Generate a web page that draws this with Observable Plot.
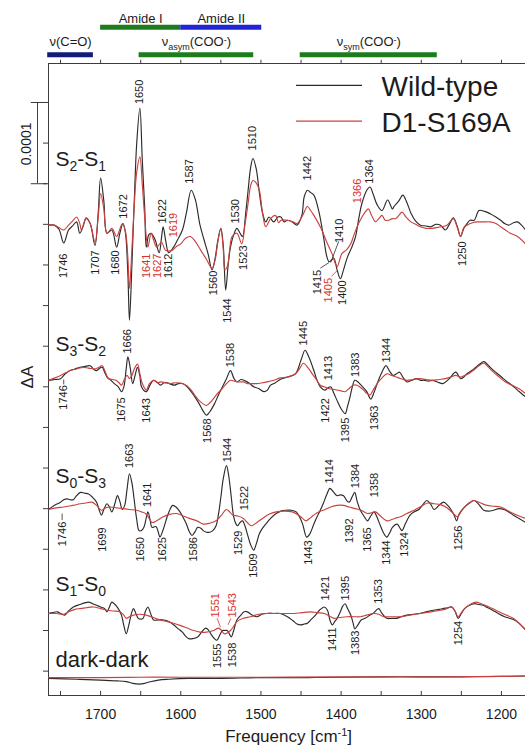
<!DOCTYPE html>
<html><head><meta charset="utf-8">
<script src="https://cdn.jsdelivr.net/npm/d3@7"></script>
<script src="https://cdn.jsdelivr.net/npm/@observablehq/plot@0.6"></script>
<style>html,body{margin:0;padding:0;background:#fff;}</style>
</head><body><div id="chart"></div>
<script>
// ---------- data (values in 1e-5 ΔA, x in cm^-1) ----------
const xTickLabels = [1700, 1600, 1500, 1400, 1300, 1200];
const xMinorTicks = [1750,1700,1650,1600,1550,1500,1450,1400,1350,1300,1250,1200];
const yTicks = [3,8,13,18,23,28,33,38,43,48,53,58,63,68,73];
const panelNames = ["S2-S1", "S3-S2", "S0-S3", "S1-S0", "dark-dark"];
const panelOffsets = [57.9, 38.8, 22.9, 10.1, 2.1];
const legendNames = ["Wild-type", "D1-S169A"];

const s2s1_wt = [[1765,0],[1758,0],[1752,-0.5],[1746,-2.2],[1740,-0.6],[1735,-0.1],[1730,0.4],[1726,-1.0],[1722,-0.2],[1718,0.9],[1713,0.2],[1707,-2.5],[1703,1.5],[1700,5.8],[1696,3.0],[1692,-1.0],[1686,-0.6],[1680,-2.7],[1676,-1.0],[1672,0.2],[1669,-1.0],[1666,-6],[1664,-11.7],[1661,-5],[1658,3],[1655,10],[1651,14.4],[1648,8],[1645,2.2],[1643,-2.7],[1640,-1.2],[1637,-1.0],[1632,-1.8],[1627,-3.4],[1624,-1.5],[1622,-0.2],[1619,-1.8],[1615,-3.4],[1609,-2.7],[1604,-1.8],[1598,-0.6],[1593,1.5],[1587,4.3],[1582,3.2],[1576,0],[1571,-1.8],[1566,-3.5],[1561,-5.5],[1557,-4],[1554,-2],[1550,-0.4],[1547,-2.5],[1544,-8],[1541,-5],[1538,-2.7],[1534,-1.2],[1530,-0.4],[1526,-1.0],[1523,-1.4],[1519,1.5],[1516,4.3],[1513,7],[1510,8.2],[1506,7],[1502,4],[1498,1.5],[1494,0.4],[1490,1.0],[1484,0.4],[1479,1.0],[1475,1.0],[1471,0.4],[1467,0.6],[1461,0.4],[1455,0],[1449,1.2],[1446,3.5],[1442,4.3],[1438,4.0],[1434,3.7],[1428,1.8],[1422,-1.4],[1418,-3.8],[1415,-4.5],[1412,-4.3],[1409,-4.1],[1405,-5.5],[1401,-6.6],[1397,-5.5],[1392,-3.9],[1387,-2.8],[1382,-1.4],[1378,0.8],[1374,2.7],[1368,4.3],[1364,4.7],[1360,3.8],[1355,2.5],[1349,1.8],[1342,3.1],[1336,2.0],[1334,2.3],[1328,3.0],[1323,3.7],[1318,2.8],[1313,1.5],[1307,0.5],[1301,0],[1294,-0.1],[1288,-0.2],[1282,0.1],[1276,0],[1270,-0.6],[1265,0.1],[1260,0.9],[1255,-0.2],[1251,-1.4],[1247,-0.4],[1243,0.2],[1239,0.6],[1234,0.6],[1228,1.8],[1221,1.7],[1214,1.4],[1207,1.0],[1201,0.6],[1196,0.2],[1191,0],[1185,0.3],[1180,0.4],[1175,0],[1170,-0.6]];
const s2s1_mut = [[1765,0],[1758,0],[1752,-0.3],[1746,-0.6],[1740,0],[1735,0.5],[1730,1.0],[1726,0.2],[1724,-0.6],[1721,0.2],[1718,0.8],[1713,0.2],[1707,-2.1],[1703,1.0],[1700,3.9],[1696,2.0],[1692,-1.0],[1686,-0.4],[1680,-1.4],[1676,-0.5],[1673,0.2],[1669,-0.8],[1666,-4],[1664,-7.8],[1661,-3],[1658,2.5],[1655,6.5],[1651,8.4],[1648,5],[1645,1.0],[1641,-2.7],[1637,-1.0],[1634,-1.8],[1630,-2.7],[1624,-2.1],[1619,-3.1],[1611,-3.1],[1605,-2.6],[1600,-2.3],[1594,-1.6],[1588,-1.4],[1582,-2.0],[1575,-3.1],[1568,-4.2],[1561,-5.3],[1557,-4.2],[1554,-2.2],[1550,-0.4],[1547,-3],[1545,-5.5],[1542,-5.1],[1539,-3],[1536,-1.4],[1530,-1.0],[1524,-2.3],[1520,0],[1516,2.7],[1513,4.8],[1510,5.5],[1506,5.2],[1502,4.3],[1498,1.5],[1494,-0.2],[1488,0.8],[1482,1.2],[1478,0.3],[1475,0.6],[1467,0.6],[1460,0.4],[1455,0.2],[1448,1.2],[1442,2.3],[1438,1.8],[1434,1.2],[1426,-0.2],[1417,-2.3],[1411,-3.6],[1405,-5.1],[1399,-3.5],[1393,-3.0],[1388,-2.3],[1384,-1.2],[1380,-0.2],[1374,1.0],[1370,1.6],[1366,2.0],[1362,1.2],[1357,0.4],[1353,0.8],[1349,1.2],[1345,0.6],[1341,0.6],[1336,0.8],[1332,0.8],[1328,1.2],[1324,1.6],[1319,1.0],[1313,0.4],[1307,0.1],[1301,-0.2],[1294,-0.4],[1288,-0.4],[1281,-0.3],[1275,-0.2],[1268,0],[1260,0.8],[1255,-0.3],[1251,-1.4],[1247,-0.3],[1243,0],[1236,0.3],[1230,0.4],[1222,0.4],[1214,0.4],[1207,0.2],[1201,-0.2],[1195,-0.6],[1189,-1.0],[1180,-1.4],[1170,-2.3]];
const s3s2_wt = [[1765,0],[1757,0.1],[1750,0.2],[1744,0.8],[1738,1.2],[1732,1.4],[1726,1.6],[1720,1.7],[1713,1.8],[1708,1.3],[1705,1.2],[1701,1.5],[1698,1.6],[1695,1.0],[1692,0.4],[1687,0],[1683,-0.4],[1678,-0.8],[1674,-1.4],[1671,-0.8],[1668,1.5],[1666,2.9],[1663,1.5],[1660,-0.4],[1657,0.6],[1654,1.6],[1651,0.5],[1649,-0.8],[1643,-1.4],[1638,-0.5],[1634,0],[1630,-0.2],[1625,-0.6],[1621,-0.3],[1617,-0.3],[1612,-0.5],[1608,-0.6],[1603,-0.4],[1598,-0.4],[1592,-0.8],[1587,-1.4],[1582,-2.1],[1577,-2.9],[1572,-3.8],[1568,-4.3],[1564,-3.9],[1558,-2.9],[1553,-1.8],[1548,-0.8],[1543,0.2],[1538,1.2],[1534,0.3],[1530,-0.2],[1525,0.1],[1519,-0.1],[1514,-0.4],[1509,-0.8],[1503,-1.0],[1496,-1.4],[1492,-1.2],[1488,-0.6],[1482,-0.3],[1476,0.1],[1467,0.4],[1457,0.8],[1450,2.5],[1445,3.7],[1440,2.8],[1434,1.2],[1430,0],[1426,-0.8],[1420,-1.2],[1416,-0.9],[1413,-0.8],[1409,-1.6],[1405,-2.5],[1400,-3.5],[1395,-4.1],[1392,-3.2],[1389,-2.1],[1386,-0.8],[1383,0],[1379,-0.2],[1375,-0.6],[1368,-1.4],[1363,-2.3],[1359,-1.5],[1355,-0.4],[1350,0.8],[1344,1.8],[1340,1.2],[1335,0.6],[1331,0.8],[1327,1.0],[1323,0.4],[1318,-0.2],[1312,0],[1306,0.2],[1301,0],[1296,0],[1291,-0.1],[1286,0],[1280,-0.2],[1273,-0.4],[1265,0.2],[1257,1.0],[1251,0.2],[1247,0.4],[1243,0.8],[1237,1.2],[1232,1.6],[1227,2.0],[1222,2.3],[1217,1.9],[1212,1.4],[1206,0.9],[1200,0.4],[1194,-0.1],[1187,-0.6],[1180,-1.2],[1173,-1.8],[1170,-2.0]];
const s3s2_mut = [[1765,0],[1757,0.3],[1750,0.6],[1744,0.9],[1738,1.2],[1730,1.4],[1722,1.6],[1715,1.5],[1707,1.4],[1702,1.6],[1698,1.8],[1694,1.0],[1690,0.2],[1685,0.1],[1681,0],[1677,-0.3],[1674,-0.6],[1670,0.2],[1667,0.6],[1664,0.2],[1661,0.6],[1658,1.4],[1654,2.0],[1651,0.8],[1648,-0.4],[1643,-1.2],[1639,-0.4],[1634,0],[1629,-0.3],[1625,-0.2],[1619,-0.3],[1613,-0.4],[1606,-0.3],[1598,-0.4],[1592,-0.7],[1587,-1.2],[1582,-1.9],[1577,-2.5],[1572,-2.9],[1568,-3.1],[1563,-2.7],[1558,-2.1],[1553,-1.5],[1548,-1.0],[1543,-0.4],[1538,0],[1533,-0.1],[1528,-0.2],[1522,-0.2],[1517,-0.4],[1511,-0.4],[1505,-0.4],[1498,-0.3],[1492,-0.2],[1484,0],[1476,0.3],[1467,0.4],[1457,0.8],[1452,1.4],[1447,2.1],[1441,1.5],[1436,0.8],[1431,0.1],[1426,-0.6],[1421,-0.8],[1416,-1.0],[1410,-1.1],[1405,-1.2],[1400,-1.3],[1395,-1.4],[1390,-1.0],[1385,-0.6],[1380,-0.6],[1377,-0.8],[1372,-1.2],[1368,-1.6],[1364,-1.8],[1360,-1.2],[1355,-0.4],[1349,0.3],[1343,0.8],[1337,0.6],[1331,0.4],[1325,0.2],[1318,0],[1310,0.1],[1302,0.2],[1294,0.1],[1286,0],[1278,0.1],[1270,0.2],[1263,0.4],[1257,0.6],[1251,0.4],[1246,0.6],[1241,0.8],[1234,1.3],[1228,1.8],[1222,2.1],[1217,1.7],[1212,1.2],[1204,0.5],[1195,-0.2],[1189,-0.5],[1183,-0.8],[1177,-1.1],[1173,-1.4],[1170,-1.6]];
const s0s3_wt = [[1765,0],[1758,0.5],[1750,0.9],[1746,1.2],[1742,1.3],[1738,1.2],[1734,1.2],[1730,1.7],[1725,2.1],[1720,2.0],[1715,1.9],[1710,1.5],[1705,0.9],[1702,0],[1699,-0.7],[1696,0],[1692,0.7],[1689,0.3],[1686,-0.3],[1682,0.8],[1679,1.7],[1676,1.0],[1673,0],[1670,0.5],[1667,2.5],[1664,4.4],[1661,3.3],[1658,1.1],[1655,-1.2],[1652,-2.6],[1649,-2.6],[1646,-2.2],[1643,-1.0],[1641,-0.3],[1638,-1.4],[1636,-2.2],[1631,-2.1],[1628,-2.8],[1626,-3.4],[1622,-2.5],[1617,-0.9],[1613,0.1],[1610,0.5],[1606,0.3],[1601,-0.3],[1597,-1.0],[1593,-1.8],[1589,-2.8],[1586,-3.2],[1582,-2.7],[1579,-2.2],[1575,-2.3],[1572,-2.6],[1568,-2.8],[1564,-2.8],[1560,-2.6],[1556,-2.0],[1553,-0.6],[1550,1.5],[1547,3.8],[1543,5.4],[1540,4.0],[1537,1.5],[1534,-0.9],[1531,-1.8],[1529,-2.0],[1526,-1.6],[1523,-1.4],[1520,-2.0],[1517,-3.0],[1513,-4.3],[1509,-5.0],[1506,-4.3],[1502,-3.0],[1498,-2.3],[1494,-1.8],[1488,-1.1],[1481,-0.5],[1475,-0.2],[1469,-0.1],[1462,-0.1],[1456,-0.3],[1452,-0.9],[1448,-1.8],[1443,-3.4],[1439,-3.0],[1434,-1.8],[1430,-0.9],[1426,-0.1],[1422,0.8],[1418,1.8],[1414,2.6],[1410,2.2],[1405,1.7],[1401,1.8],[1397,1.7],[1393,1.1],[1390,0.9],[1386,1.6],[1383,2.1],[1380,1.0],[1376,-0.1],[1371,-0.9],[1367,-1.4],[1363,-0.8],[1359,-0.3],[1355,-1.0],[1351,-2.0],[1347,-2.9],[1343,-3.4],[1339,-2.8],[1336,-2.2],[1330,-1.8],[1326,-2.4],[1324,-2.6],[1320,-1.8],[1314,-0.7],[1309,-0.3],[1303,0],[1298,0.6],[1293,1.1],[1288,0.6],[1284,0],[1278,0.5],[1272,0.9],[1267,0.5],[1263,0],[1259,-0.7],[1256,-1.4],[1253,-0.6],[1247,0.2],[1241,0.7],[1234,1.1],[1228,0.6],[1222,-0.1],[1216,-0.2],[1210,-0.1],[1203,0.1],[1197,0],[1191,-0.3],[1185,-0.7],[1178,-1.1],[1170,-1.6]];
const s0s3_mut = [[1765,0],[1755,0.2],[1746,0.3],[1735,0.5],[1725,0.7],[1718,0.8],[1711,0.9],[1705,0.5],[1699,-0.1],[1694,0.2],[1688,0.3],[1680,0.2],[1672,0.1],[1664,0],[1655,-0.1],[1649,-0.3],[1644,-0.5],[1640,-1.0],[1636,-1.6],[1630,-1.4],[1622,-0.9],[1614,-0.6],[1605,-0.5],[1597,-0.8],[1589,-1.1],[1580,-1.4],[1572,-1.8],[1564,-1.7],[1556,-1.4],[1550,-0.8],[1543,0],[1539,-0.3],[1535,-0.7],[1529,-0.8],[1522,-1.1],[1517,-1.6],[1512,-2.0],[1505,-1.6],[1498,-1.1],[1490,-0.6],[1481,-0.3],[1471,-0.2],[1461,-0.3],[1453,-0.7],[1448,-1.1],[1444,-1.4],[1438,-1.0],[1433,-0.6],[1428,-0.3],[1420,0],[1413,0.3],[1405,0.5],[1397,0.5],[1390,0.3],[1382,0.1],[1375,-0.1],[1367,-0.5],[1362,-0.4],[1357,-0.3],[1351,-0.8],[1343,-1.4],[1336,-1.2],[1330,-1.0],[1326,-0.9],[1318,-0.5],[1309,-0.1],[1300,0.4],[1292,0.8],[1284,0.7],[1276,0.6],[1268,0.2],[1261,-0.4],[1255,-0.9],[1250,-0.2],[1244,0.5],[1239,0.9],[1234,1.1],[1226,0.8],[1218,0.5],[1210,0.4],[1201,0.3],[1193,-0.1],[1185,-0.5],[1178,-0.8],[1170,-1.1]];
const s1s0_wt = [[1765,0],[1760,0.1],[1754,0.2],[1750,0],[1745,-0.2],[1740,0.3],[1734,0.8],[1726,1.1],[1720,1.3],[1715,1.4],[1710,1.2],[1705,1.0],[1700,0.8],[1695,0.6],[1692,0.2],[1689,0.8],[1686,1.4],[1682,1.1],[1678,0.6],[1674,-0.2],[1671,-1.5],[1668,-2.5],[1665,-1.5],[1663,-0.6],[1661,0.2],[1659,0.6],[1656,0],[1653,-0.6],[1650,-0.7],[1647,-0.6],[1644,0.3],[1641,0.8],[1638,0.1],[1634,-0.8],[1628,-0.8],[1621,-0.8],[1615,-1.0],[1609,-1.4],[1603,-1.9],[1598,-2.3],[1594,-2.8],[1590,-3.1],[1585,-3.1],[1579,-2.9],[1574,-2.3],[1569,-1.8],[1565,-2.1],[1562,-2.6],[1558,-3.1],[1555,-3.3],[1551,-2.6],[1548,-2.1],[1545,-2.1],[1542,-2.1],[1539,-2.6],[1537,-2.9],[1534,-2.1],[1530,-0.8],[1525,-0.2],[1521,0.2],[1517,0.2],[1511,-0.2],[1505,-0.4],[1499,-0.1],[1493,0],[1484,0],[1476,0],[1467,-0.4],[1460,-0.9],[1455,-1.3],[1450,-1.4],[1446,-1.3],[1442,-1.2],[1437,-0.7],[1432,-0.2],[1427,0.4],[1421,0.8],[1417,0.4],[1414,-0.8],[1411,-1.4],[1408,-1.0],[1405,-0.6],[1401,0.2],[1398,0.9],[1395,1.2],[1392,0.6],[1388,-0.2],[1385,-1.2],[1383,-1.9],[1379,-1.4],[1375,-0.8],[1370,-0.6],[1364,-0.2],[1359,0.1],[1355,0.5],[1353,0.6],[1349,0],[1343,-0.6],[1337,-0.6],[1331,-0.6],[1325,-0.4],[1318,-0.2],[1310,-0.1],[1302,0],[1294,0.2],[1285,0.4],[1278,0.5],[1273,0.6],[1267,0.7],[1262,0.8],[1258,0.3],[1254,-0.6],[1250,0],[1246,0.6],[1240,1.0],[1234,1.2],[1228,1.1],[1223,1.0],[1217,0.7],[1211,0.4],[1204,0],[1196,-0.4],[1190,-0.6],[1184,-0.8],[1178,-1.2],[1174,-1.6],[1170,-2.0]];
const s1s0_mut = [[1765,0],[1755,0],[1746,-0.1],[1740,0.2],[1732,0.5],[1726,0.6],[1718,0.7],[1709,0.8],[1700,0.6],[1692,0.4],[1684,0.3],[1676,0.2],[1671,-0.2],[1668,-0.6],[1664,-0.4],[1659,-0.2],[1651,-0.1],[1643,-0.2],[1634,-0.5],[1626,-0.8],[1617,-1.0],[1609,-1.2],[1600,-1.5],[1592,-1.8],[1584,-2.1],[1576,-2.3],[1568,-2.3],[1559,-2.1],[1553,-1.8],[1549,-2.1],[1546,-2.5],[1542,-2.4],[1538,-2.1],[1534,-1.6],[1530,-1.0],[1522,-0.6],[1513,-0.4],[1503,-0.1],[1493,0],[1484,0],[1471,0],[1459,0],[1449,0.1],[1438,0.2],[1430,0.1],[1421,0],[1415,-0.3],[1409,-0.6],[1402,-0.5],[1392,-0.4],[1384,-0.4],[1376,-0.4],[1368,-0.2],[1359,0],[1353,-0.1],[1347,-0.4],[1337,-0.4],[1326,-0.4],[1314,-0.2],[1301,0],[1288,0.2],[1276,0.4],[1268,0.6],[1262,0.8],[1258,0.3],[1254,-0.4],[1250,0.1],[1246,0.6],[1239,1.1],[1232,1.4],[1225,1.2],[1218,0.9],[1211,0.6],[1203,0.2],[1194,-0.2],[1187,-0.5],[1180,-1.0],[1175,-1.5],[1170,-2.0]];
const dark_wt = [[1765,0],[1730,-0.1],[1700,-0.2],[1680,-0.3],[1668,-0.4],[1660,-0.6],[1652,-0.7],[1645,-0.6],[1638,-0.4],[1628,-0.2],[1615,-0.1],[1590,0],[1550,0],[1500,0.1],[1450,0.1],[1400,0.15],[1350,0.2],[1300,0.2],[1250,0.2],[1200,0.25],[1170,0.3]];
const dark_mut = [[1765,0.1],[1700,0.1],[1650,0.15],[1600,0.15],[1500,0.15],[1400,0.2],[1300,0.2],[1200,0.25],[1170,0.3]];

// peak labels: [text, wavenumber, level, strain]
const peakLabelsUp = [
 ["1672",1671,58.7,"wt"],["1650",1651,72.8,"wt"],["1622",1623,58.1,"wt"],["1619",1609,56.4,"mut"],["1587",1589,63.0,"wt"],["1530",1532,58.1,"wt"],["1510",1510.5,67.1,"wt"],["1442",1442,63.4,"wt"],["1364",1364.6,63.0,"wt"],["1366",1380,60.6,"mut"],["1410",1401.6,55.7,"wt"],
 ["1666",1667,42.1,"wt"],["1538",1538,40.4,"wt"],["1445",1446.5,43.1,"wt"],["1413",1415.7,38.8,"wt"],["1383",1382,39.2,"wt"],["1344",1343.4,41.0,"wt"],
 ["1663",1663.6,28.0,"wt"],["1641",1642,23.2,"wt"],["1544",1542,28.7,"wt"],["1522",1521,22.8,"wt"],["1414",1415,26.1,"wt"],["1384",1382,25.5,"wt"],["1358",1359,24.4,"wt"],
 ["1551",1556.7,9.6,"mut"],["1543",1536,9.6,"mut"],["1421",1419.5,11.7,"wt"],["1395",1394.5,11.7,"wt"],["1353",1353,11.3,"wt"]
];
const peakLabelsDown = [
 ["1746",1746,54.4,"wt"],["1707",1706,54.8,"wt"],["1680",1681,54.8,"wt"],["1641",1643,54.4,"mut"],["1627",1629,54.4,"mut"],["1612",1615,54.4,"wt"],["1560",1559,52.3,"wt"],["1544",1542,48.9,"wt"],["1523",1522,55.4,"wt"],["1250",1249,55.9,"wt"],["1415",1430,52.4,"wt"],["1405",1415.7,51.4,"mut"],["1400",1398.7,51.1,"wt"],
 ["1746",1746,38.2,"wt"],["1675",1674,36.7,"wt"],["1643",1643,36.6,"wt"],["1568",1567,34.1,"wt"],["1422",1419.5,36.6,"wt"],["1395",1394.5,34.2,"wt"],["1363",1359,35.7,"wt"],
 ["1746",1748,21.4,"wt"],["1699",1698,20.7,"wt"],["1650",1650,19.5,"wt"],["1625",1623,19.5,"wt"],["1586",1584,19.5,"wt"],["1529",1527.6,20.3,"wt"],["1509",1509,17.5,"wt"],["1443",1441,19.1,"wt"],["1392",1390,21.8,"wt"],["1365",1367.5,20.7,"wt"],["1344",1343.4,19.1,"wt"],["1324",1321,20.1,"wt"],["1256",1253,20.9,"wt"],
 ["1555",1554.6,6.4,"wt"],["1538",1536,6.5,"wt"],["1411",1411,8.4,"wt"],["1383",1382,8.0,"wt"],["1254",1253,9.2,"wt"]
];
// leader lines: [x1, level1, x2, level2, strain]
const leaders = [
 [1426,52.6,1415,53.3,"wt"],[1412,51.6,1405,52.3,"mut"],[1403,55.9,1413,53.3,"wt"],
 [1746,38.3,1746,38.9,"wt"],[1748,21.6,1748,22.4,"wt"],
 [1554.6,9.5,1550.5,8.4,"mut"],[1537.5,9.5,1541,8.7,"mut"]
];
// assignment bands: [label, from, to, row, colour]
const bands = [
 ["ν(C=O)",1766,1709,0,"#111d78"],
 ["νasym(COO-)",1652,1509,0,"#1d7d1d"],
 ["νsym(COO-)",1451,1280,0,"#1d7d1d"],
 ["Amide I",1700,1600,1,"#1d7d1d"],
 ["Amide II",1600,1499,1,"#2222d6"]
];

// ---------- styling ----------
const WT = "#2b2b2b", MUT = "#c9423f", MUTTXT = "#d8322e", AX = "#3c3c3c", TXT = "#1c1c1c";
const FONT = "'Liberation Sans', Arial, sans-serif";
const series = [
 [s2s1_wt,0,"wt"],[s2s1_mut,0,"mut"],[s3s2_wt,1,"wt"],[s3s2_mut,1,"mut"],
 [s0s3_wt,2,"wt"],[s0s3_mut,2,"mut"],[s1s0_wt,3,"wt"],[s1s0_mut,3,"mut"],
 [dark_wt,4,"wt"],[dark_mut,4,"mut"]
];
const panelLabelLevel = [65.2, 42.4, 26.2, 12.9, 3.5];
const rowBar = [78.87, 82.27], rowText = [79.9, 82.8];

const marks = [];
// frame + ticks
marks.push(Plot.ruleX([1765], {y1: 0, y2: 77.8, stroke: AX, strokeWidth: 1}));
marks.push(Plot.ruleY([0, 77.8], {x1: 1765, x2: 1170, stroke: AX, strokeWidth: 1}));
marks.push(Plot.ruleX(xMinorTicks, {y1: 0, y2: 0.5, stroke: AX, strokeWidth: 1}));
marks.push(Plot.ruleX(xMinorTicks, {y1: 77.8, y2: 78.2, stroke: AX, strokeWidth: 1}));
marks.push(Plot.axisY({ticks: yTicks, tickSize: 5, tickFormat: () => "", label: null, stroke: AX}));
marks.push(Plot.axisX({ticks: xTickLabels, tickFormat: d => String(d), tickSize: 0, tickPadding: 14, fontSize: 14, label: null, fill: TXT}));
// scale bar 0.0001
marks.push(Plot.ruleX([1778.7], {y1: 63, y2: 73, stroke: AX, strokeWidth: 1}));
marks.push(Plot.ruleY([63, 73], {x1: 1786.5, x2: 1766, stroke: AX, strokeWidth: 1}));
marks.push(Plot.text(["0.0001"], {x: 1792.5, y: 67.9, rotate: -90, fontSize: 14, fill: TXT, textAnchor: "middle", lineAnchor: "middle"}));
marks.push(Plot.text(["ΔA"], {x: 1791.5, y: 39.2, rotate: -90, fontSize: 17, fill: TXT, textAnchor: "middle", lineAnchor: "middle"}));
marks.push(Plot.text(["Frequency [cm-1]"], {x: 1465.5, y: -5.75, fontSize: 17, fill: TXT, textAnchor: "middle", lineAnchor: "bottom"}));
// bands
for (const b of bands) {
  marks.push(Plot.ruleY([b], {y: d => rowBar[d[3]], x1: d => d[1], x2: d => d[2], stroke: b[4], strokeWidth: 5}));
}
marks.push(Plot.text(bands, {x: d => (d[1] + d[2]) / 2, y: d => rowText[d[3]], text: d => d[0], fontSize: 13, fill: TXT, textAnchor: "middle", lineAnchor: "bottom"}));
// spectra
for (const [pts, p, s] of series) {
  marks.push(Plot.line(pts, {x: d => d[0], y: d => d[1] + panelOffsets[p], stroke: s === "wt" ? WT : MUT, strokeWidth: 1.15, curve: "catmull-rom"}));
}
// panel names
marks.push(Plot.text(panelNames, {x: 1756.3, y: (d, i) => panelLabelLevel[i], text: d => d, fontSize: (d, i) => i === 4 ? 22 : 21, fill: TXT, textAnchor: "start", lineAnchor: "bottom"}));
// leaders
marks.push(Plot.link(leaders, {x1: d => d[0], y1: d => d[1], x2: d => d[2], y2: d => d[3], stroke: d => d[4] === "wt" ? WT : MUTTXT, strokeWidth: 0.8}));
// peak labels
marks.push(Plot.text(peakLabelsUp, {x: d => d[1], y: d => d[2], text: d => d[0], fill: d => d[3] === "wt" ? TXT : MUTTXT, rotate: -90, fontSize: 11, textAnchor: "start", lineAnchor: "middle"}));
marks.push(Plot.text(peakLabelsDown, {x: d => d[1], y: d => d[2], text: d => d[0], fill: d => d[3] === "wt" ? TXT : MUTTXT, rotate: -90, fontSize: 11, textAnchor: "end", lineAnchor: "middle"}));
// legend
marks.push(Plot.ruleY(legendNames, {y: (d, i) => [75.1, 70.7][i], x1: 1455.7, x2: 1373.3, stroke: (d, i) => i === 0 ? WT : MUT, strokeWidth: 1.2}));
marks.push(Plot.text(legendNames, {x: 1349.6, y: (d, i) => [73.8, 69.4][i], text: d => d, fontSize: 28, fill: TXT, textAnchor: "start", lineAnchor: "bottom"}));

const chart = Plot.plot({
  width: 525, height: 748,
  marginLeft: 48, marginRight: 0, marginTop: 63, marginBottom: 53,
  x: {domain: [1765, 1170]},
  y: {domain: [0, 77.8]},
  color: {type: "identity"},
  style: {fontFamily: FONT, background: "#fff", overflow: "visible"},
  marks
});

// rich text (sub/superscripts)
const rich = {
  "S2-S1": {parts: [["S"],["2","sub"],["-S"],["1","sub"]], size: 14, shift: 5},
  "S3-S2": {parts: [["S"],["3","sub"],["-S"],["2","sub"]], size: 14, shift: 5},
  "S0-S3": {parts: [["S"],["0","sub"],["-S"],["3","sub"]], size: 14, shift: 5},
  "S1-S0": {parts: [["S"],["1","sub"],["-S"],["0","sub"]], size: 14, shift: 5},
  "νasym(COO-)": {parts: [["ν"],["asym","sub"],["(COO"],["-","sup"],[")"]], size: 9, shift: 3.5},
  "νsym(COO-)": {parts: [["ν"],["sym","sub"],["(COO"],["-","sup"],[")"]], size: 9, shift: 3.5},
  "Frequency [cm-1]": {parts: [["Frequency [cm"],["-1","sup"],["]"]], size: 11, shift: 6}
};
d3.select(chart).selectAll("text").each(function () {
  const r = rich[this.textContent];
  if (!r) return;
  const el = d3.select(this);
  el.text(null);
  let cur = 0;
  for (const [s, kind] of r.parts) {
    const target = kind === "sub" ? r.shift : kind === "sup" ? -r.shift : 0;
    const ts = el.append("tspan").text(s).attr("dy", target - cur);
    if (kind) ts.attr("font-size", r.size);
    cur = target;
  }
});
document.getElementById("chart").appendChild(chart);
</script></body></html>
